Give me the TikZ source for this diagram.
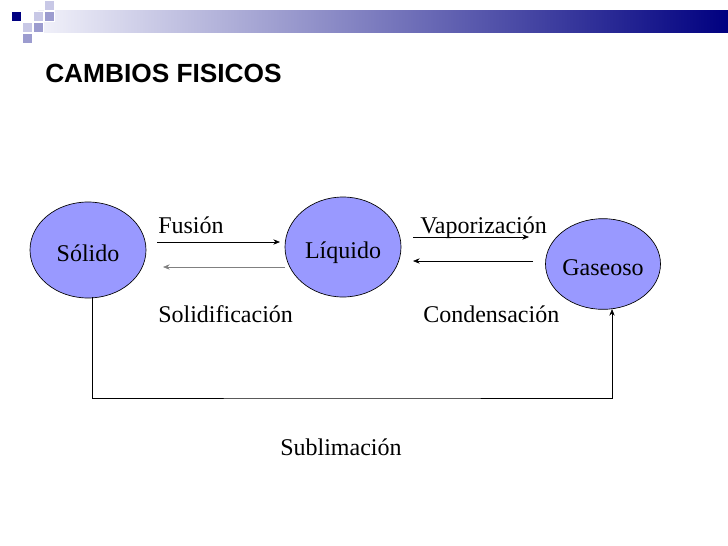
\documentclass[tikz,border=0pt]{standalone}
\usepackage{fontspec}
\setmainfont{Liberation Serif}
\setsansfont{Liberation Sans}
\usetikzlibrary{arrows.meta,shapes.geometric}
\definecolor{fillCol}{HTML}{9999FF}
\definecolor{navyCol}{HTML}{000080}
\definecolor{barIni}{HTML}{F2F2FA}
\definecolor{sqLight}{HTML}{C8C8E6}
\definecolor{sqMed}{HTML}{9C9CCF}
\tikzset{
  estado/.style={ellipse, draw=black, fill=fillCol, line width=0.5pt, inner sep=0pt,
                 text height=17pt, text depth=0pt, font=\fontsize{18}{21}\selectfont},
  flecha/.style={-{Stealth[length=5pt,width=4pt]}, line width=0.5pt},
  etiq/.style={anchor=base west, inner sep=0pt, font=\fontsize{18}{21}\selectfont},
  cuadro/.style={fill=#1, draw=white, line width=0.4pt},
}
\begin{document}
\begin{tikzpicture}[x=0.75pt,y=-0.75pt]
  \useasboundingbox (0,0) rectangle (728,546);
  % cabecera
  \shade[left color=barIni, right color=navyCol] (38,10) rectangle (728,32);
  \foreach \x/\y/\c in {44/0/sqLight,33/11/sqLight,44/11/sqMed,22/22/sqLight,33/22/sqMed,22/33/sqMed}
    {\draw[cuadro=\c] (\x,\y) rectangle ++(10,10);}
  \draw[cuadro=navyCol] (11,11) rectangle ++(10,10);
  \node[anchor=base west, inner sep=0pt, font=\fontsize{19.7}{22}\selectfont\sffamily\bfseries]
    (titulo) at (45,82) {CAMBIOS FISICOS};

  \node[estado, minimum width=87pt, minimum height=72pt] (solido) at (88,250) {Sólido};
  \node[estado, minimum width=87pt, minimum height=75pt] (liquido) at (343,247) {Líquido};
  \node[estado, minimum width=85.5pt, minimum height=68pt] (gaseoso) at (603,264) {Gaseoso};

  \coordinate (fusA) at (157,242);   \coordinate (fusB) at (280,242);
  \coordinate (solA) at (285,267);   \coordinate (solB) at (163,267);
  \coordinate (vapA) at (413,237);   \coordinate (vapB) at (529,237);
  \coordinate (conA) at (533,261);   \coordinate (conB) at (413,261);
  \coordinate (subA) at (92,297);    \coordinate (subB) at (612,309);

  \draw[flecha] (fusA) -- (fusB);
  \draw[flecha, gray] (solA) -- (solB);
  \draw[flecha] (vapA) -- (vapB);
  \draw[flecha] (conA) -- (conB);
  \draw[flecha] (subA) |- (352,398) -| (subB);

  \node[etiq] (lFus) at (158,233) {Fusión};
  \node[etiq] (lSol) at (158,322) {Solidificación};
  \node[etiq] (lVap) at (420,233) {Vaporización};
  \node[etiq] (lCon) at (423,322) {Condensación};
  \node[etiq] (lSub) at (280,455) {Sublimación};
\end{tikzpicture}
\end{document}
